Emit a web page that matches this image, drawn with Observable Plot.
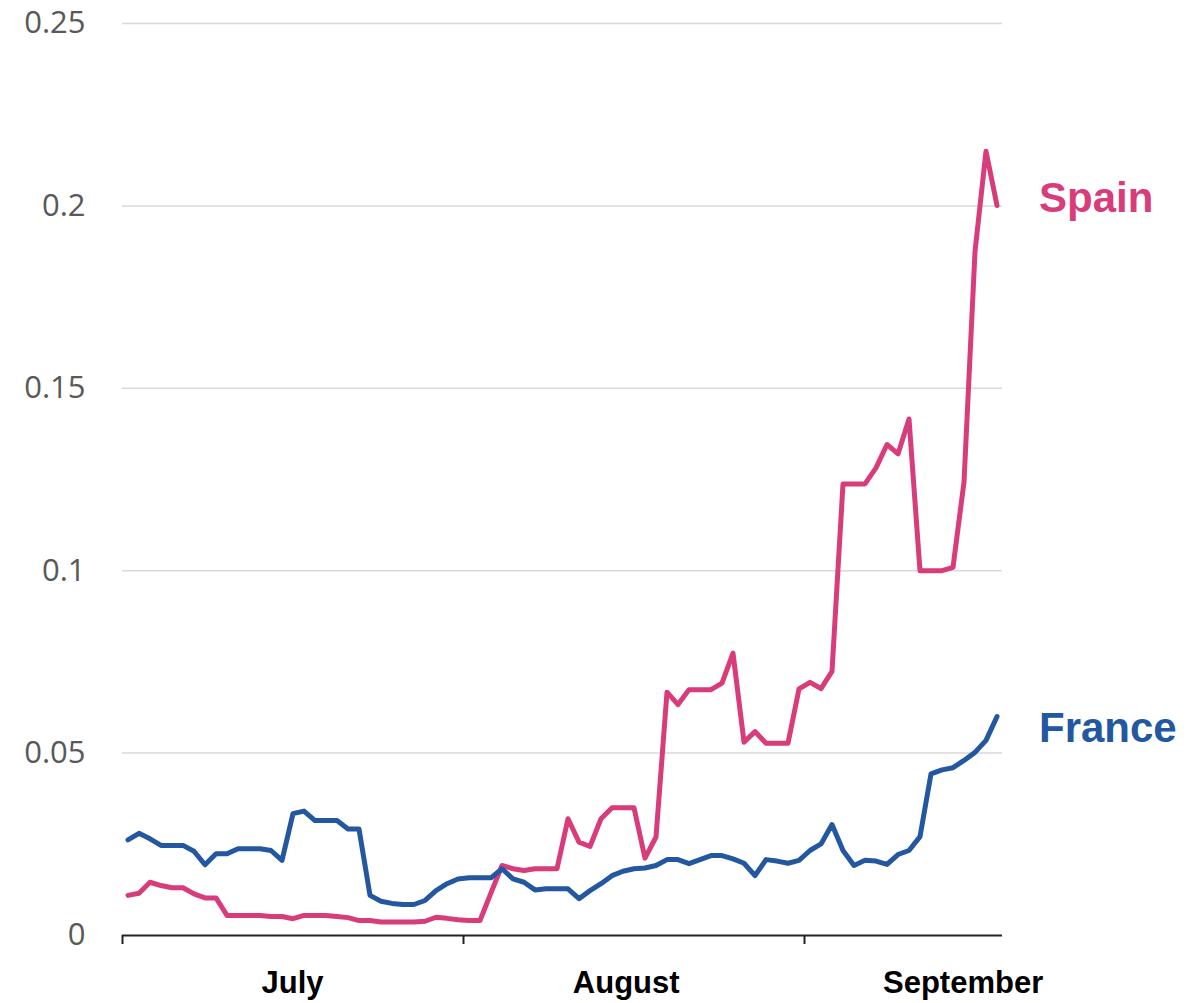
<!DOCTYPE html>
<html>
<head>
<meta charset="utf-8">
<script src="https://cdn.jsdelivr.net/npm/d3@7"></script>
<script src="https://cdn.jsdelivr.net/npm/@observablehq/plot@0.6"></script>
<style>
  html, body { margin: 0; padding: 0; background: #fff; }
  #chart svg { display: block; }
</style>
</head>
<body>
<div id="chart"></div>
<script>
// ---- Data ----
const startDay = "2020-07-01";
const endDay = "2020-09-19"; // exclusive
const seriesNames = ["Spain", "France"];
const seriesColors = ["#d83c7b", "#2358a0"];

const spain = [
  0.0110, 0.0116, 0.0146, 0.0137, 0.0131, 0.0131, 0.0114, 0.0103, 0.0103, 0.0055,
  0.0055, 0.0055, 0.0055, 0.0052, 0.0052, 0.0046, 0.0055, 0.0055, 0.0055, 0.0052,
  0.0049, 0.0041, 0.0041, 0.0037, 0.0037, 0.0037, 0.0037, 0.0039, 0.0050, 0.0047,
  0.0043, 0.0041, 0.0041, 0.0117, 0.0192, 0.0183, 0.0178, 0.0183, 0.0183, 0.0183,
  0.0320, 0.0256, 0.0244, 0.0320, 0.0350, 0.0350, 0.0350, 0.0212, 0.0270, 0.0667,
  0.0633, 0.0674, 0.0674, 0.0674, 0.0692, 0.0774, 0.0530, 0.0559, 0.0527, 0.0527,
  0.0527, 0.0676, 0.0694, 0.0677, 0.0724, 0.1238, 0.1238, 0.1238, 0.1282, 0.1346,
  0.1320, 0.1416, 0.1000, 0.1000, 0.1000, 0.1009, 0.1243, 0.1875, 0.2150, 0.2001
];
const france = [
  0.0262, 0.0280, 0.0265, 0.0247, 0.0247, 0.0247, 0.0231, 0.0194, 0.0224, 0.0224,
  0.0238, 0.0238, 0.0238, 0.0233, 0.0206, 0.0334, 0.0341, 0.0315, 0.0315, 0.0315,
  0.0292, 0.0292, 0.0110, 0.0094, 0.0088, 0.0085, 0.0085, 0.0096, 0.0123, 0.0142,
  0.0155, 0.0158, 0.0158, 0.0158, 0.0183, 0.0155, 0.0146, 0.0125, 0.0128, 0.0128,
  0.0128, 0.0101, 0.0123, 0.0142, 0.0164, 0.0176, 0.0183, 0.0185, 0.0192, 0.0208,
  0.0208, 0.0197, 0.0208, 0.0219, 0.0219, 0.0210, 0.0198, 0.0164, 0.0208, 0.0204,
  0.0198, 0.0206, 0.0233, 0.0251, 0.0304, 0.0233, 0.0192, 0.0206, 0.0204, 0.0195,
  0.0222, 0.0233, 0.0271, 0.0443, 0.0454, 0.0460, 0.0480, 0.0502, 0.0535, 0.0600
];

const yTicks = [0, 0.05, 0.1, 0.15, 0.2, 0.25];
const monthTicks = ["2020-07-01", "2020-08-01", "2020-09-01"];
const monthLabels = ["July", "August", "September"];
const monthLabelDates = ["2020-07-16T11:00Z", "2020-08-15T19:00Z", "2020-09-15T10:00Z"];

// ---- Build table ----
const days = d3.utcDay.range(new Date(startDay), new Date(endDay));
const rows = [];
[spain, france].forEach((vals, s) => {
  vals.forEach((v, i) => rows.push({series: seriesNames[s], date: days[i], value: v, i}));
});
const lastIdx = days.length - 1;
const mid = d => d3.utcHour.offset(d.date, 12);
const labelDateMap = new Map(monthLabelDates.map((d, k) => [+new Date(d), monthLabels[k]]));

const chart = Plot.plot({
  width: 1204,
  height: 1003,
  marginLeft: 122,
  marginRight: 202,
  marginTop: 23,
  marginBottom: 68,
  style: {fontFamily: "'Liberation Sans', Arial, Helvetica, sans-serif", background: "#fff"},
  x: {type: "utc", domain: [new Date(startDay), new Date(endDay)]},
  y: {domain: [0, 0.25]},
  color: {domain: seriesNames, range: seriesColors},
  marks: [
    Plot.gridY({ticks: yTicks.filter(t => t > 0), stroke: "#d9d9d9", strokeOpacity: 1, strokeWidth: 1.5}),
    Plot.axisY({ticks: yTicks, tickSize: 0, tickPadding: 37, tickFormat: d => String(d),
      fontSize: 31, fontFamily: "'Open Sans', 'Liberation Sans', sans-serif", fill: "#595959", label: null}),
    Plot.ruleY([0], {stroke: "#222", strokeWidth: 2}),
    Plot.axisX({ticks: monthTicks.map(d => new Date(d)), tickSize: 9, tickFormat: () => "",
      stroke: "#222", strokeWidth: 2, label: null}),
    Plot.axisX({ticks: monthLabelDates.map(d => new Date(d)), tickSize: 0, tickPadding: 35,
      tickFormat: d => labelDateMap.get(+d), fontSize: 31, fontWeight: "bold", fill: "#000", label: null}),
    Plot.line(rows, {x: mid, y: "value", z: "series", stroke: "series", strokeWidth: 5,
      strokeLinejoin: "round", strokeLinecap: "round"}),
    Plot.text(rows, {filter: d => d.i === lastIdx && d.series === "Spain", x: mid, y: "value", text: "series",
      fill: "series", dx: 42, dy: -7, textAnchor: "start", fontSize: 42, fontWeight: "bold"}),
    Plot.text(rows, {filter: d => d.i === lastIdx && d.series === "France", x: mid, y: "value", text: "series",
      fill: "series", dx: 42, dy: 12, textAnchor: "start", fontSize: 42, fontWeight: "bold"})
  ]
});
document.getElementById("chart").appendChild(chart);
</script>
</body>
</html>
